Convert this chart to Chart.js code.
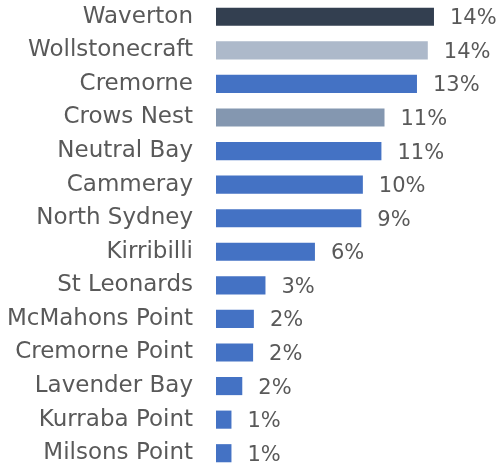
<!DOCTYPE html>
<html>
<head>
<meta charset="utf-8">
<script src="https://cdn.jsdelivr.net/npm/chart.js@4/dist/chart.umd.min.js"></script>
<style>
html,body{margin:0;padding:0;background:#fff}
#wrap{position:relative;width:502px;height:470px}
</style>
</head>
<body>
<div id="wrap"><canvas id="cv"></canvas></div>
<script>
// ═══ DATA ═══
var suburbs=['Waverton','Wollstonecraft','Cremorne','Crows Nest','Neutral Bay','Cammeray','North Sydney','Kirribilli','St Leonards','McMahons Point','Cremorne Point','Lavender Bay','Kurraba Point','Milsons Point'];
var shares=[14.1,13.7,13.0,10.9,10.7,9.5,9.4,6.4,3.2,2.45,2.4,1.7,1.0,1.0];
var shareLabels=['14%','14%','13%','11%','11%','10%','9%','6%','3%','2%','2%','2%','1%','1%'];
var barColors=['#333f50','#adb9ca','#4472c4','#8497b0','#4472c4','#4472c4','#4472c4','#4472c4','#4472c4','#4472c4','#4472c4','#4472c4','#4472c4','#4472c4'];

var FONT='"DejaVu Sans", sans-serif';
var TXT='#595959';

// value labels at bar ends
var valueLabels={id:'valueLabels',afterDatasetsDraw:function(chart){
  var ctx=chart.ctx;var meta=chart.getDatasetMeta(0);
  ctx.save();
  ctx.font='21px '+FONT;ctx.fillStyle=TXT;ctx.textAlign='left';ctx.textBaseline='middle';
  meta.data.forEach(function(bar,i){ctx.fillText(shareLabels[i],bar.x+16,bar.y+2);});
  ctx.restore();
}};

new Chart(document.getElementById('cv'),{
  type:'bar',
  data:{labels:suburbs,datasets:[{data:shares,backgroundColor:barColors,borderWidth:0,
    categoryPercentage:1,barPercentage:0.54}]},
  options:{indexAxis:'y',responsive:true,maintainAspectRatio:false,animation:false,
    layout:{padding:{top:-4.5,bottom:-0.5,left:0,right:0}},
    plugins:{legend:{display:false},tooltip:{enabled:false}},
    scales:{
      x:{display:false,min:0,max:18.5},
      y:{offset:true,grid:{display:false,drawTicks:false},border:{display:false},
        ticks:{color:TXT,padding:23,font:{family:FONT,size:23},autoSkip:false},
        afterFit:function(s){s.width=216;s.paddingTop=0;s.paddingBottom=0;}}
    }
  },
  plugins:[valueLabels]
});
</script>
</body>
</html>
